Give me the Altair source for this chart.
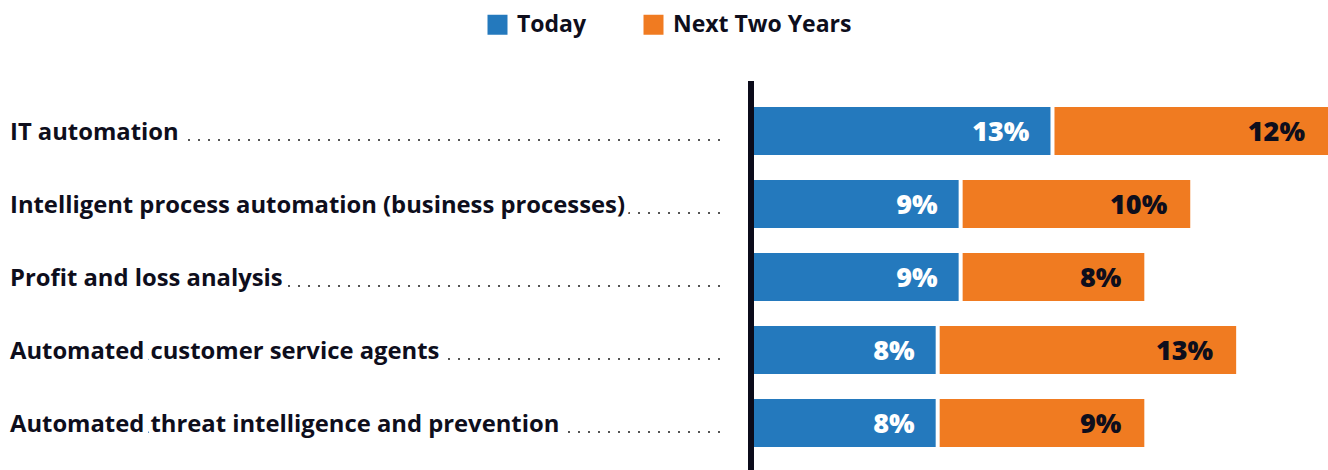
import altair as alt
import pandas as pd

categories = [
    "IT automation",
    "Intelligent process automation (business processes)",
    "Profit and loss analysis",
    "Automated customer service agents",
    "Automated threat intelligence and prevention",
]
today = [13, 9, 9, 8, 8]
next_two = [12, 10, 8, 13, 9]
series = ["Today", "Next Two Years"]
colors = ["#2479bd", "#f07b21"]

FONT = "Open Sans"
TEXT = "#0e0e1c"

rows = []
for c, t, n in zip(categories, today, next_two):
    rows.append({"cat": c, "series": "Today", "start": 0, "end": t, "label": f"{t}%"})
    rows.append({"cat": c, "series": "Next Two Years", "start": t, "end": t + n, "label": f"{n}%"})
df = pd.DataFrame(rows)
cats_df = pd.DataFrame({"cat": categories})

y = alt.Y("cat:N", sort=categories, axis=None,
          scale=alt.Scale(paddingInner=0.3425, paddingOuter=0.329))
x_scale = alt.Scale(domain=[0, 25], nice=False, zero=True)
color = alt.Color("series:N", scale=alt.Scale(domain=series, range=colors),
                  legend=alt.Legend(title=None, orient="none", direction="horizontal",
                                    legendX=-268, legendY=-69,
                                    symbolType="square", symbolSize=400,
                                    symbolStrokeWidth=0, symbolOpacity=1,
                                    labelFont=FONT, labelFontSize=23,
                                    labelFontWeight="bold", labelColor=TEXT,
                                    labelLimit=400,
                                    labelOffset=8, columnPadding=55))

base = alt.Chart(df)

today_bars = base.transform_filter(alt.datum.series == "Today").mark_bar(
    x2Offset=-2, yOffset=1, y2Offset=1).encode(
    x=alt.X("start:Q", scale=x_scale, axis=None), x2="end:Q", y=y, color=color)
next_bars = base.transform_filter(alt.datum.series == "Next Two Years").mark_bar(
    xOffset=2, yOffset=1, y2Offset=1).encode(
    x=alt.X("start:Q", scale=x_scale, axis=None), x2="end:Q", y=y, color=color)

today_labels = base.transform_filter(alt.datum.series == "Today").mark_text(
    align="right", baseline="alphabetic", dx=-23, dy=11, font=FONT,
    fontSize=27, fontWeight=800, color="white").encode(
    x=alt.X("end:Q", scale=x_scale), y=y, text="label:N")
next_labels = base.transform_filter(alt.datum.series == "Next Two Years").mark_text(
    align="right", baseline="alphabetic", dx=-23, dy=11, font=FONT,
    fontSize=27, fontWeight=800, color=TEXT).encode(
    x=alt.X("end:Q", scale=x_scale), y=y, text="label:N")

cat_base = alt.Chart(cats_df)
leaders = cat_base.mark_rule(strokeDash=[2, 8], strokeWidth=2, color="#555555",
                             yOffset=10).encode(
    x=alt.value(-34), x2=alt.value(-744), y=y)
halo = cat_base.mark_text(align="left", baseline="alphabetic", dy=10, font=FONT,
                          fontSize=23.8, fontWeight="bold", color="white",
                          stroke="white", strokeWidth=10, strokeJoin="round").encode(
    x=alt.value(-744), y=y, text="cat:N")
cat_labels = cat_base.mark_text(align="left", baseline="alphabetic", dy=10, font=FONT,
                                fontSize=23.8, fontWeight="bold", color=TEXT).encode(
    x=alt.value(-744), y=y, text="cat:N")

axis_line = cat_base.mark_rule(color="#0b0b1a", strokeWidth=6).encode(
    x=alt.value(-3), y=alt.value(-1), y2=alt.value(388))

chart = alt.layer(
    leaders, halo, cat_labels, today_bars, next_bars, today_labels, next_labels, axis_line
).properties(
    width=574, height=388,
    padding={"left": 754, "top": 82, "right": 0, "bottom": 0},
    autosize=alt.AutoSizeParams(type="none"),
).configure(background="white").configure_view(stroke=None)

chart.save("out.html", embed_options={"renderer": "svg", "actions": False})
